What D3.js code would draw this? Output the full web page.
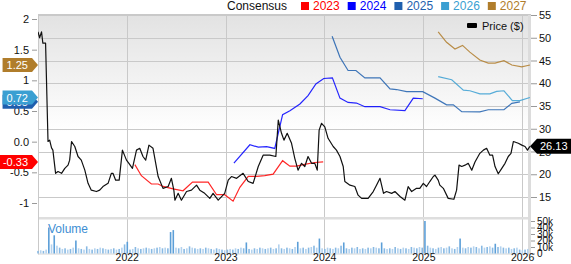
<!DOCTYPE html>
<html><head><meta charset="utf-8">
<script src="https://cdn.jsdelivr.net/npm/d3@7"></script>
<style>body{margin:0;background:#fff}svg{display:block;font-family:"Liberation Sans",Arial,sans-serif}</style>
</head><body><svg id="c" width="571" height="264"></svg>
<script>
// ---------- DATA ----------
const priceDates = ["2021-02-07","2021-02-13","2021-02-20","2021-02-25","2021-03-07","2021-03-16","2021-03-22","2021-03-29","2021-04-03","2021-04-13","2021-04-22","2021-05-05","2021-05-17","2021-05-29","2021-06-04","2021-06-11","2021-06-23","2021-07-05","2021-07-17","2021-07-30","2021-08-11","2021-08-23","2021-09-11","2021-09-23","2021-10-05","2021-10-24","2021-11-05","2021-11-11","2021-11-21","2021-12-04","2021-12-16","2021-12-31","2022-01-09","2022-01-22","2022-02-06","2022-02-18","2022-03-02","2022-03-12","2022-03-24","2022-04-08","2022-04-27","2022-05-15","2022-06-03","2022-06-15","2022-06-24","2022-06-28","2022-07-10","2022-07-22","2022-08-10","2022-08-28","2022-09-16","2022-09-28","2022-10-16","2022-11-04","2022-11-16","2022-12-05","2022-12-29","2023-01-11","2023-01-23","2023-02-11","2023-03-07","2023-03-26","2023-04-13","2023-05-02","2023-05-20","2023-06-14","2023-07-06","2023-07-15","2023-07-27","2023-08-05","2023-08-17","2023-09-02","2023-09-14","2023-09-26","2023-10-09","2023-10-21","2023-11-02","2023-11-15","2023-11-27","2023-12-06","2023-12-13","2023-12-22","2024-01-03","2024-01-15","2024-02-03","2024-02-15","2024-02-28","2024-03-11","2024-03-17","2024-04-05","2024-04-23","2024-05-05","2024-05-18","2024-06-11","2024-06-30","2024-07-12","2024-07-25","2024-08-07","2024-08-18","2024-09-06","2024-09-18","2024-10-07","2024-10-25","2024-11-06","2024-11-19","2024-12-07","2024-12-19","2025-01-01","2025-01-13","2025-01-25","2025-02-07","2025-02-13","2025-02-25","2025-03-03","2025-03-16","2025-04-03","2025-04-24","2025-05-04","2025-05-13","2025-05-23","2025-06-04","2025-06-16","2025-06-29","2025-07-11","2025-07-29","2025-08-11","2025-08-23","2025-09-04","2025-09-14","2025-09-23","2025-10-05","2025-10-18","2025-10-30","2025-11-11","2025-11-21","2025-11-30","2025-12-18","2025-12-31","2026-01-12","2026-01-21","2026-01-30"];
const priceValues = [51.3,50.0,51.3,48.8,48.8,27.2,27.5,25.8,25.3,20.2,20.6,20.2,21.3,22.0,23.1,27.2,26.1,23.9,23.1,20.9,18.0,16.5,16.2,16.5,17.3,18.0,20.2,20.2,18.7,18.7,25.3,23.1,22.4,21.3,25.3,25.7,23.9,23.1,26.4,25.7,19.5,16.9,17.3,19.1,16.5,14.3,15.8,14.3,16.2,16.5,17.6,16.5,15.8,14.7,15.8,14.3,15.8,18.7,19.5,19.1,20.2,18.4,18.0,21.7,24.2,24.2,23.9,31.9,29.0,27.5,29.0,26.8,23.5,20.9,22.4,21.7,23.9,22.4,22.4,20.9,29.7,31.2,30.4,27.9,26.1,25.3,23.9,21.7,18.4,17.6,17.3,15.4,14.7,14.7,16.2,17.6,19.1,15.8,16.2,15.8,16.2,15.1,14.3,17.3,16.2,16.9,16.9,18.0,17.3,18.4,19.5,19.8,18.7,17.6,16.9,14.7,14.5,16.5,22.0,21.7,22.0,22.4,20.9,22.7,24.6,25.3,25.7,24.2,24.2,21.7,20.1,21.3,22.4,23.9,24.6,27.2,26.8,26.4,26.1,25.3,26.13];

const consensusYears = ["2023","2024","2025","2026","2027"];
const est2023Dates = ["2022-01-31","2022-02-24","2022-04-02","2022-04-27","2022-05-15","2022-06-21","2022-07-28","2022-09-01","2022-09-28","2022-10-29","2022-11-29","2022-12-29","2023-01-29","2023-02-23","2023-03-26","2023-04-26","2023-05-26","2023-06-26","2023-07-31","2023-08-27","2023-09-21","2023-10-15","2023-11-27","2023-12-28"];
const est2023Values = [-0.375,-0.555,-0.69,-0.69,-0.73,-0.77,-0.80,-0.66,-0.66,-0.66,-0.865,-0.865,-0.97,-0.745,-0.565,-0.565,-0.555,-0.53,-0.31,-0.40,-0.40,-0.375,-0.34,-0.33];
const est2024Dates = ["2023-02-01","2023-04-01","2023-05-02","2023-06-02","2023-07-02","2023-07-31","2023-08-27","2023-10-03","2023-11-02","2023-12-01","2023-12-30","2024-01-31","2024-02-28","2024-03-29","2024-04-29","2024-05-30","2024-07-25","2024-08-31","2024-10-25","2024-11-25","2024-12-30"];
const est2024Values = [-0.35,-0.05,-0.09,-0.08,-0.11,0.44,0.505,0.615,0.75,0.94,1.03,1.04,0.71,0.64,0.63,0.57,0.57,0.52,0.505,0.71,0.70];
const est2025Dates = ["2024-01-30","2024-02-28","2024-03-29","2024-04-27","2024-05-30","2024-07-25","2024-08-31","2024-09-24","2024-10-31","2024-12-30","2025-02-13","2025-03-28","2025-04-22","2025-05-23","2025-07-29","2025-08-29","2025-10-26","2025-11-24","2025-12-24"];
const est2025Values = [1.72,1.375,1.16,1.16,1.04,1.04,0.86,0.85,0.815,0.815,0.71,0.60,0.60,0.49,0.485,0.52,0.52,0.625,0.65];
const est2026Dates = ["2025-02-25","2025-04-16","2025-05-29","2025-06-22","2025-07-29","2025-09-04","2025-09-29","2025-10-26","2025-11-26","2025-12-24","2026-01-30"];
const est2026Values = [1.06,1.01,0.84,0.83,0.78,0.78,0.82,0.83,0.67,0.67,0.72];
const est2027Dates = ["2025-02-25","2025-03-28","2025-04-28","2025-05-26","2025-06-22","2025-07-29","2025-08-29","2025-09-23","2025-10-26","2025-11-24","2025-12-31","2026-01-30"];
const est2027Values = [1.79,1.62,1.51,1.57,1.46,1.33,1.28,1.28,1.32,1.25,1.22,1.25];
const flagYears = ["2023","2025","2026","2027"]; // years whose current consensus flag shows at the left

const volumeStart = "2021-02-07";
const volumeStepDays = 10;
const volumeValues = [4,5,4,6,40,14,28,12,9,7, 8,6,7,9,20,8,7,6,11,7, 6,8,7,9,8,7,6,7,8,6, 7,9,14,18,6,7,10,8,7,8,
 9,8,7,8,9,10,8,9,8,33, 36,9,8,10,7,8,11,9,8,7, 8,7,9,8,7,6,8,7,6,5, 6,7,6,8,7,9,8,17,7,6,
 8,7,9,8,7,8,9,7,8,14, 8,7,9,8,7,10,18,8,9,7, 9,10,12,9,23,8,7,9,8,7, 9,8,12,17,8,7,9,8,10,7,
 8,7,9,8,10,9,8,17,8,7, 8,7,10,8,7,9,8,7,10,9, 8,10,9,50,12,9,8,7,9,10, 8,9,11,8,7,10,23,9,8,10,
 9,11,10,8,12,9,10,11,9,15, 10,11,9,8,9,7,8,9,6,5, 6,7]; // thousands

const priceTicks = [15,20,25,30,35,40,45,50,55];
const epsTicks = [2,1.5,1,0.5,0,-0.5,-1];
const epsTickLabels = ["2","1.5","1","0.5","0.0","-0.5","-1"];
const volumeTicks = [0,10,20,30,40,50];
const volumeTickLabels = ["0","10k","20k","30k","40k","50k"];
const yearTicks = ["2022-01-01","2023-01-01","2024-01-01","2025-01-01","2026-01-01"];
const yearLabels = ["2022","2023","2024","2025","2026"];
const lastPrice = 26.13;

// ---------- STYLE ----------
const seriesColors = {"2023":"#ff0000","2024":"#0000ff","2025":"#1f5fae","2026":"#3a9fd2","2027":"#b07d2b"};
const P = {l:38, r:531, t:14, b:217, vb:253.5, vt:221};

// ---------- CHART ----------
const parse = d3.timeParse("%Y-%m-%d");
const svg = d3.select("#c");
const x = d3.scaleTime().domain([parse("2021-02-07"), parse("2026-02-03")]).range([P.l, P.r]);
const yP = d3.scaleLinear().domain([15,55]).range([197,15]);
const yE = d3.scaleLinear().domain([-1,2]).range([203,19]);
const yV = d3.scaleLinear().domain([0,50]).range([P.vb, P.vt]);

const defs = svg.append("defs");
const g = defs.append("linearGradient").attr("id","bg").attr("x1",0).attr("y1",0).attr("x2",0).attr("y2",1);
g.append("stop").attr("offset","0%").attr("stop-color","#e2e2e2");
g.append("stop").attr("offset","58%").attr("stop-color","#ffffff");
g.append("stop").attr("offset","100%").attr("stop-color","#ffffff");
defs.append("clipPath").attr("id","clip").append("rect").attr("x",P.l).attr("y",P.t).attr("width",P.r-P.l).attr("height",P.b-P.t);

svg.append("rect").attr("x",P.l).attr("y",P.t).attr("width",P.r-P.l).attr("height",P.b-P.t).attr("fill","url(#bg)");

// grid
svg.append("g").selectAll("line").data(priceTicks).join("line")
  .attr("x1",P.l).attr("x2",P.r).attr("y1",d=>Math.round(yP(d))+0.5).attr("y2",d=>Math.round(yP(d))+0.5)
  .attr("stroke","#c9c9c9").attr("stroke-width",1);
svg.append("g").selectAll("line").data(yearTicks).join("line")
  .attr("x1",d=>Math.round(x(parse(d)))+0.5).attr("x2",d=>Math.round(x(parse(d)))+0.5)
  .attr("y1",P.t).attr("y2",P.vb+1).attr("stroke","#c9c9c9");

// separator & frame
svg.append("rect").attr("x",P.l).attr("y",P.b).attr("width",P.r-P.l).attr("height",2.5).attr("fill","#dedede");
svg.append("line").attr("x1",P.l+0.5).attr("x2",P.l+0.5).attr("y1",P.t).attr("y2",P.vb+1).attr("stroke","#c9c9c9");
svg.append("rect").attr("x",P.r-3).attr("y",P.t).attr("width",3).attr("height",P.vb+1-P.t).attr("fill","#dcdcdc");
svg.append("line").attr("x1",P.l).attr("x2",P.r).attr("y1",P.t+0.5).attr("y2",P.t+0.5).attr("stroke","#c9c9c9");
svg.append("line").attr("x1",P.l).attr("x2",P.r).attr("y1",P.vb+0.5).attr("y2",P.vb+0.5).attr("stroke","#d6d6d6");

// volume bars
const volData = volumeValues.map((v,i)=>({date:d3.timeDay.offset(parse(volumeStart), i*volumeStepDays), v}));
svg.append("g").selectAll("rect").data(volData).join("rect")
  .attr("x",d=>x(d.date)-0.8).attr("width",1.6)
  .attr("y",d=>yV(d.v)).attr("height",d=>yV(0)-yV(d.v))
  .attr("fill",(d,i)=> d.v>=15 ? "#5c9fd8" : (i%2 ? "#b3d2ee" : "#88b9e3"));
svg.append("text").attr("x",48).attr("y",233).attr("font-size",12).attr("fill","#3d8ed3").text("Volume");

// estimate lines
const estSeries = [
  {year:"2023", dates:est2023Dates, values:est2023Values},
  {year:"2024", dates:est2024Dates, values:est2024Values},
  {year:"2025", dates:est2025Dates, values:est2025Values},
  {year:"2026", dates:est2026Dates, values:est2026Values},
  {year:"2027", dates:est2027Dates, values:est2027Values}
];
const lineE = d3.line().x(d=>x(d.date)).y(d=>yE(d.v));
const plot = svg.append("g").attr("clip-path","url(#clip)");
estSeries.forEach(s=>{
  const pts = s.dates.map((d,i)=>({date:parse(d), v:s.values[i]}));
  plot.append("path").datum(pts).attr("d",lineE).attr("fill","none")
    .attr("stroke",seriesColors[s.year]).attr("stroke-width",1.2).attr("opacity",0.85);
});

// price line
const pricePts = priceDates.map((d,i)=>({date:parse(d), v:priceValues[i]}));
plot.append("path").datum(pricePts)
  .attr("d",d3.line().x(d=>x(d.date)).y(d=>yP(d.v)))
  .attr("fill","none").attr("stroke","#111").attr("stroke-width",1.2).attr("stroke-linejoin","round");

// axes
const axL = svg.append("g").attr("transform",`translate(${P.l-1},0)`)
  .call(d3.axisLeft(yE).tickValues(epsTicks).tickSize(5).tickPadding(3).tickFormat((d,i)=>epsTickLabels[i]));
const axR = svg.append("g").attr("transform",`translate(${P.r},0)`)
  .call(d3.axisRight(yP).tickValues(priceTicks).tickSize(6).tickPadding(2));
const axV = svg.append("g").attr("transform",`translate(${P.r},0)`)
  .call(d3.axisRight(yV).tickValues(volumeTicks).tickSize(4).tickPadding(2).tickFormat((d,i)=>volumeTickLabels[i]));
const axB = svg.append("g").attr("transform",`translate(0,${P.vb-6})`)
  .call(d3.axisBottom(x).tickValues(yearTicks.map(parse)).tickSize(0).tickPadding(6.5).tickFormat((d,i)=>yearLabels[i]));
[axL,axR,axV,axB].forEach(a=>{
  a.select(".domain").remove();
  a.selectAll("text").attr("fill","#111").attr("font-family","Liberation Sans, Arial, sans-serif").attr("font-size",11);
  a.selectAll(".tick line").attr("stroke","#999");
});
axV.selectAll("text").attr("font-size",10);
axB.selectAll("text").attr("font-size",10.5);

// consensus flags (left)
const flagG = svg.append("g");
estSeries.filter(s=>flagYears.includes(s.year)).forEach(s=>{
  const v = s.values[s.values.length-1];
  const yy = yE(v);
  const t = flagG.append("text").attr("y",yy+4).attr("font-size",11).attr("fill","#fff").text(v.toFixed(2));
  const w = t.node().getComputedTextLength();
  const xl = 32 - w - 8;
  flagG.insert("path","text:last-child")
    .attr("d",`M${xl},${yy-7}H32L38,${yy}L32,${yy+7}H${xl}Z`).attr("fill",seriesColors[s.year]);
  t.attr("x",xl+4);
  t.raise();
});

// price flag (right)
const py = yP(lastPrice);
svg.append("path").attr("d",`M530,${py}L537,${py-7.5}H571V${py+7.5}H537Z`).attr("fill","#000");
svg.append("text").attr("x",540).attr("y",py+4).attr("font-size",11).attr("fill","#fff").text(lastPrice.toFixed(2));

// legend
const lg = svg.append("g").attr("font-size",12);
lg.append("text").attr("x",227).attr("y",10).attr("fill","#111").text("Consensus");
let lx = 301;
consensusYears.forEach(yr=>{
  lg.append("rect").attr("x",lx).attr("y",2).attr("width",8).attr("height",8).attr("fill",seriesColors[yr]);
  const t = lg.append("text").attr("x",lx+12).attr("y",10).attr("fill",seriesColors[yr]).text(yr);
  lx += 12 + t.node().getComputedTextLength() + 8;
});
svg.append("rect").attr("x",467).attr("y",23).attr("width",10).attr("height",5).attr("rx",1).attr("fill","#000");
svg.append("text").attr("x",482).attr("y",30).attr("font-size",11).attr("fill","#111").text("Price ($)");
</script></body></html>
